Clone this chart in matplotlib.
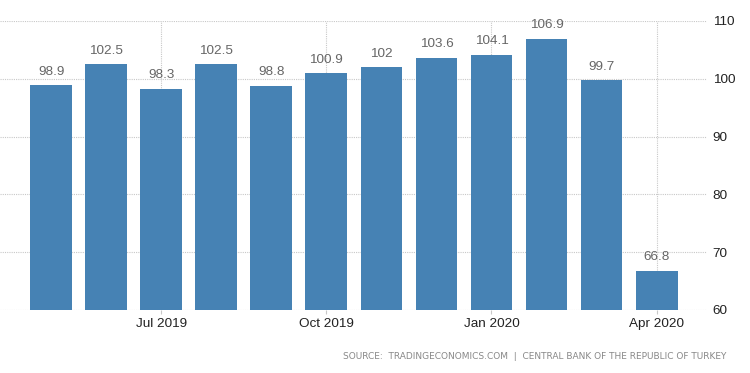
import numpy as np
import matplotlib.pyplot as plt

plt.rcParams["font.family"] = ["Liberation Sans", "DejaVu Sans"]

months = ["May 2019", "Jun 2019", "Jul 2019", "Aug 2019", "Sep 2019", "Oct 2019",
          "Nov 2019", "Dec 2019", "Jan 2020", "Feb 2020", "Mar 2020", "Apr 2020"]
values = [98.9, 102.5, 98.3, 102.5, 98.8, 100.9, 102, 103.6, 104.1, 106.9, 99.7, 66.8]
tick_labels = ["Jul 2019", "Oct 2019", "Jan 2020", "Apr 2020"]
y_ticks = [60, 70, 80, 90, 100, 110]

BAR_COLOR = "#4682b4"
GRID_COLOR = "#c8c8c8"

fig = plt.figure(figsize=(7.5, 3.73), dpi=100)
ax = fig.add_axes([0.0, 0.169, 0.943, 0.775])

x = np.arange(len(months))
ax.bar(x, values, width=0.76, color=BAR_COLOR, zorder=2)

for xi, v in zip(x, values):
    ax.text(xi, v + 1.3, f"{v:g}", ha="center", va="bottom",
            fontsize=9.7, color="#666666", zorder=3)

ax.set_xlim(-0.93, 11.92)
ax.set_ylim(60, 110)

tick_pos = [months.index(t) for t in tick_labels]
ax.set_xticks(tick_pos)
ax.set_xticklabels(tick_labels, fontsize=9.7, color="#222222")
ax.set_yticks(y_ticks)
ax.yaxis.tick_right()
ax.tick_params(axis="y", length=0, pad=4, labelsize=9.7, labelcolor="#222222")
ax.tick_params(axis="x", length=3, color=GRID_COLOR, pad=3)

ax.grid(True, axis="both", linestyle=(0, (1, 1)), linewidth=0.8, color=GRID_COLOR, zorder=0)
ax.set_axisbelow(True)
for s in ax.spines.values():
    s.set_visible(False)

fig.text(0.969, 0.043,
         "SOURCE:  TRADINGECONOMICS.COM  |  CENTRAL BANK OF THE REPUBLIC OF TURKEY",
         ha="right", va="center", fontsize=6.5, color="#888888", family="DejaVu Sans")

fig.savefig("out.png", dpi=100)
